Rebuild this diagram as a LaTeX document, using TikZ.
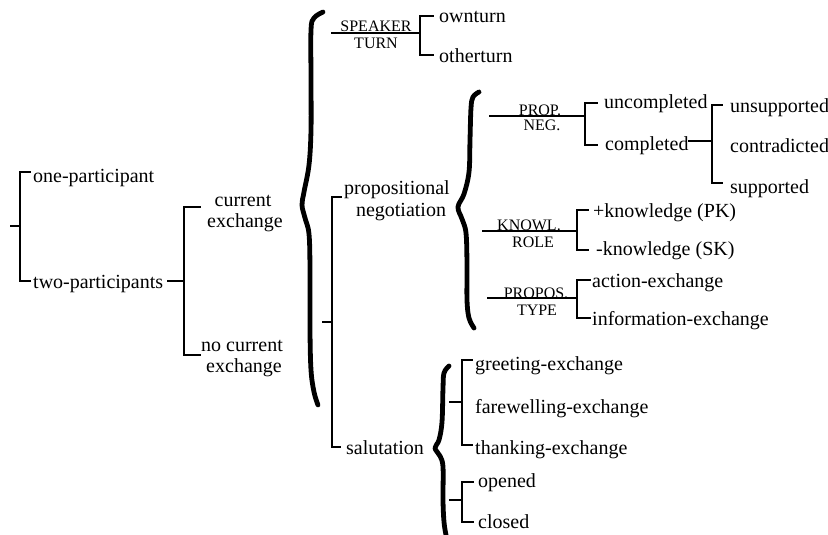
\documentclass[tikz,border=0pt]{standalone}
\usepackage{fontspec}
\setmainfont{Liberation Serif}
\begin{document}
\begin{tikzpicture}[x=1pt,y=-1pt,
  lbl/.style={inner sep=0pt, anchor=base west, font=\fontsize{20}{20}\selectfont},
  ctr/.style={inner sep=0pt, anchor=base, font=\fontsize{20}{20}\selectfont},
  sm/.style={inner sep=0pt, anchor=base, font=\fontsize{16}{16}\selectfont},
  net/.style={line width=1.2pt, line cap=rect},
  bracestroke/.style={line width=4.8pt, line cap=round, line join=round}]
\useasboundingbox (0,0) rectangle (828,535);

% ---------- texts ----------
\node[lbl] (one) at (33,182) {one-participant};
\node[lbl] (two) at (33,288) {two-participants};
\node[ctr] (cur1) at (243,206) {current};
\node[ctr] (cur2) at (245,227) {exchange};
\node[ctr] (no1) at (242,351) {no current};
\node[ctr] (no2) at (244,372) {exchange};
\node[ctr] (pn1) at (397,194) {propositional};
\node[ctr] (pn2) at (401,216) {negotiation};
\node[lbl] (sal) at (346,454) {salutation};
\node[sm] (spk1) at (376,32) {SPEAKER};
\node[sm] (spk2) at (376,49) {TURN};
\node[lbl] (own) at (439,23) {ownturn};
\node[lbl] (other) at (439,63) {otherturn};
\node[sm] (pr1) at (540,115) {PROP.};
\node[sm] (pr2) at (542,131) {NEG.};
\node[lbl] (unc) at (604,109) {uncompleted};
\node[lbl] (com) at (605,150) {completed};
\node[lbl] (uns) at (730,113) {unsupported};
\node[lbl] (con) at (730,152) {contradicted};
\node[lbl] (sup) at (730,193) {supported};
\node[sm] (kn1) at (529,230) {KNOWL.};
\node[sm] (kn2) at (533,247) {ROLE};
\node[lbl] (pk) at (593,217) {+knowledge (PK)};
\node[lbl] (sk) at (596,255) {-knowledge (SK)};
\node[sm] (pp1) at (536,298) {PROPOS.};
\node[sm] (pp2) at (537,315) {TYPE};
\node[lbl] (act) at (592,287) {action-exchange};
\node[lbl] (inf) at (592,325) {information-exchange};
\node[lbl] (gre) at (475,370) {greeting-exchange};
\node[lbl] (far) at (475,413) {farewelling-exchange};
\node[lbl] (tha) at (475,454) {thanking-exchange};
\node[lbl] (ope) at (478,487) {opened};
\node[lbl] (clo) at (478,528) {closed};

% ---------- bracket joints ----------
\coordinate (Ain) at (11,226);  \coordinate (Aj) at (20,226);
\coordinate (At) at (20,172);   \coordinate (Ab) at (20,281);
\coordinate (Ate) at (30,172);  \coordinate (Abe) at (30,281);

\coordinate (Bin) at (168,281); \coordinate (Bj) at (184,281);
\coordinate (Bt) at (184,207);  \coordinate (Bb) at (184,355);
\coordinate (Bte) at (200,207); \coordinate (Bbe) at (200,355);

\coordinate (Cin) at (332,33);  \coordinate (Cj) at (420,33);
\coordinate (Ct) at (420,16);   \coordinate (Cb) at (420,55);
\coordinate (Cte) at (433,16);  \coordinate (Cbe) at (433,55);

\coordinate (Din) at (323,322); \coordinate (Dj) at (332,322);
\coordinate (Dt) at (332,197);  \coordinate (Db) at (332,447);
\coordinate (Dte) at (341,197); \coordinate (Dbe) at (340,447);

\coordinate (Ein) at (490,116); \coordinate (Ej) at (585,116);
\coordinate (Et) at (585,103);  \coordinate (Eb) at (585,145);
\coordinate (Ete) at (597,103); \coordinate (Ebe) at (597,145);

\coordinate (Fin) at (689,141); \coordinate (Fj) at (712,141);
\coordinate (Ft) at (712,105);  \coordinate (Fb) at (712,183);
\coordinate (Fte) at (722,105); \coordinate (Fbe) at (722,183);

\coordinate (Gin) at (483,231); \coordinate (Gj) at (577,231);
\coordinate (Gt) at (577,210);  \coordinate (Gb) at (577,250);
\coordinate (Gte) at (588,210); \coordinate (Gbe) at (588,250);

\coordinate (Hin) at (488,298); \coordinate (Hj) at (577,298);
\coordinate (Ht) at (577,280);  \coordinate (Hb) at (577,318);
\coordinate (Hte) at (590,280); \coordinate (Hbe) at (590,318);

\coordinate (Iin) at (450,402); \coordinate (Ij) at (462,402);
\coordinate (It) at (462,360);  \coordinate (Ib) at (462,445);
\coordinate (Ite) at (472,360); \coordinate (Ibe) at (472,445);

\coordinate (Jin) at (450,500); \coordinate (Jj) at (462,500);
\coordinate (Jt) at (462,482);  \coordinate (Jb) at (462,522);
\coordinate (Jte) at (473,482); \coordinate (Jbe) at (473,522);

% ---------- brackets ----------
\foreach \b in {A,B,C,D,E,F,G,H,I,J}{
  \draw[net] (\b in) -- (\b j);
  \draw[net] (\b te) -- (\b t) -- (\b b) -- (\b be);
}

% ---------- braces ----------
\draw[bracestroke] plot[smooth, tension=0.6] coordinates {(323,12) (314,18) (311,30) (311,80) (311,130) (309,165) (304,192) (302,205) (305,218) (309,234) (310,270) (310,330) (311,370) (314,392) (318,405)};
\draw[bracestroke] plot[smooth, tension=0.6] coordinates {(479,92) (473,97) (471,108) (470,140) (469,172) (464,194) (458,207) (462,219) (466,233) (467,265) (467,300) (469,318) (474,328)};
\draw[bracestroke] plot[smooth, tension=0.6] coordinates {(449,366) (444,373) (443,388) (442,422) (439,440) (435,448) (440,456) (443,467) (443,500) (444,522) (446,535)};
\end{tikzpicture}
\end{document}
